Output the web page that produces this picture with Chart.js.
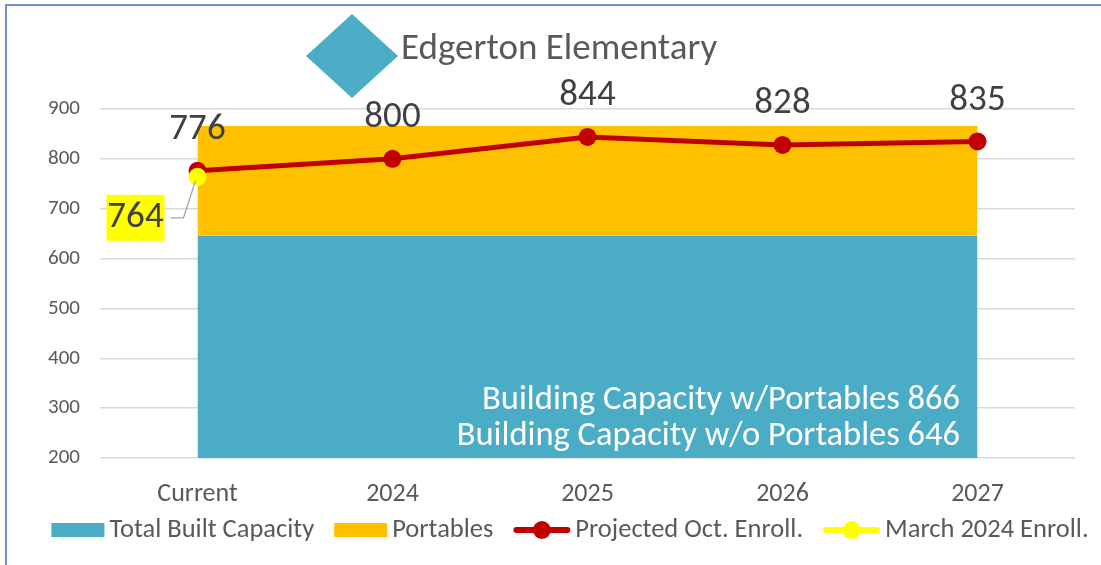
<!DOCTYPE html>
<html>
<head>
<meta charset="utf-8">
<script src="https://cdn.jsdelivr.net/npm/chart.js@4"></script>
<style>
  html, body { margin: 0; padding: 0; background: #fff; }
  #wrap { width: 1101px; height: 565px; }
</style>
</head>
<body>
<div id="wrap"><canvas id="grafico" width="1101" height="565"></canvas></div>
<script>
const categories = ['Current', '2024', '2025', '2026', '2027'];
const builtCapacity = [646, 646, 646, 646, 646];
const portables = [220, 220, 220, 220, 220];
const projectedEnroll = [776, 800, 844, 828, 835];
const marchEnroll = [764, null, null, null, null];
const yTicks = [200, 300, 400, 500, 600, 700, 800, 900];

const chartTitle = 'Edgerton Elementary';
const capacityNotes = ['Building Capacity w/Portables 866', 'Building Capacity w/o Portables 646'];

const FONT = 'Calibri, Carlito, Lato, sans-serif';
const TEXT = '#595959';

// top of the portables band = built + portables
const withPortables = builtCapacity.map((v, i) => v + portables[i]);

const decor = {
    id: 'decor',
    beforeDraw(chart) {
        const ctx = chart.ctx;
        ctx.save();
        // frame
        ctx.strokeStyle = '#6F93CF';
        ctx.lineWidth = 2;
        ctx.beginPath();
        ctx.moveTo(6, 565);
        ctx.lineTo(6, 5);
        ctx.lineTo(1101, 5);
        ctx.stroke();
        // title marker + text
        ctx.fillStyle = '#4BACC6';
        ctx.beginPath();
        ctx.moveTo(352, 14);
        ctx.lineTo(398, 56);
        ctx.lineTo(352, 98);
        ctx.lineTo(306, 56);
        ctx.closePath();
        ctx.fill();
        ctx.fillStyle = TEXT;
        ctx.font = '37px ' + FONT;
        ctx.textBaseline = 'middle';
        ctx.textAlign = 'left';
        ctx.fillText(chartTitle, 401, 50);
        ctx.restore();
    },
    afterDatasetsDraw(chart) {
        const ctx = chart.ctx;
        ctx.save();
        // capacity note in the teal area
        ctx.fillStyle = '#fff';
        ctx.font = '34.5px ' + FONT;
        ctx.textAlign = 'right';
        ctx.textBaseline = 'middle';
        ctx.fillText(capacityNotes[0], 960, 400);
        ctx.fillText(capacityNotes[1], 960, 436);

        // projected labels
        const proj = chart.getDatasetMeta(2);
        ctx.fillStyle = '#404040';
        ctx.font = '37px ' + FONT;
        ctx.textAlign = 'center';
        proj.data.forEach((pt, i) => {
            ctx.fillText(String(projectedEnroll[i]), pt.x, pt.y - 41);
        });

        // march label with leader line
        const mar = chart.getDatasetMeta(3);
        mar.data.forEach((pt, i) => {
            if (marchEnroll[i] == null) return;
            const cx = pt.x - 62, cy = pt.y + 41;
            ctx.strokeStyle = '#A6A6A6';
            ctx.lineWidth = 1.3;
            ctx.beginPath();
            ctx.moveTo(cx + 35, cy);
            ctx.lineTo(cx + 48, cy);
            ctx.lineTo(pt.x - 2, pt.y + 4);
            ctx.stroke();
            ctx.fillStyle = '#FFFF00';
            ctx.fillRect(cx - 29, cy - 23, 58, 46);
            ctx.fillStyle = '#404040';
            ctx.fillText(String(marchEnroll[i]), cx, cy);
        });
        ctx.restore();
    },
    afterDraw(chart) {
        // legend
        const ctx = chart.ctx;
        ctx.save();
        ctx.font = '26.5px ' + FONT;
        ctx.textBaseline = 'middle';
        ctx.textAlign = 'left';
        const items = chart.data.datasets.map(ds => ({
            text: ds.label,
            kind: ds.legendKind,
            color: ds.legendColor,
            sw: ds.legendKind === 'box' ? 53 : 57
        }));
        let total = 0;
        items.forEach((it, i) => {
            it.tw = ctx.measureText(it.text).width;
            total += it.sw + 5 + it.tw + (i < items.length - 1 ? 20 : 0);
        });
        let x = 570 - total / 2;
        const y = 530;
        items.forEach(it => {
            if (it.kind === 'box') {
                ctx.fillStyle = it.color;
                ctx.fillRect(x, y - 7, it.sw, 14);
            } else {
                ctx.strokeStyle = it.color;
                ctx.lineWidth = 6;
                ctx.lineCap = 'round';
                ctx.beginPath();
                ctx.moveTo(x + 3, y);
                ctx.lineTo(x + it.sw - 3, y);
                ctx.stroke();
                ctx.fillStyle = it.color;
                ctx.beginPath();
                ctx.arc(x + it.sw / 2, y, 9, 0, Math.PI * 2);
                ctx.fill();
            }
            x += it.sw + 5;
            ctx.fillStyle = TEXT;
            ctx.fillText(it.text, x, y);
            x += it.tw + 20;
        });
        ctx.restore();
    }
};

const ctx = document.getElementById('grafico').getContext('2d');
new Chart(ctx, {
    type: 'line',
    data: {
        labels: categories,
        datasets: [
            {
                label: 'Total Built Capacity',
                data: builtCapacity,
                legendKind: 'box',
                legendColor: '#4BACC6',
                backgroundColor: '#4BACC6',
                borderWidth: 0,
                pointRadius: 0,
                tension: 0,
                fill: 'start',
                order: 4
            },
            {
                label: 'Portables',
                data: withPortables,
                legendKind: 'box',
                legendColor: '#FFC000',
                backgroundColor: '#FFC000',
                borderWidth: 0,
                pointRadius: 0,
                tension: 0,
                fill: '-1',
                order: 3
            },
            {
                label: 'Projected Oct. Enroll.',
                data: projectedEnroll,
                legendKind: 'line',
                legendColor: '#C00000',
                borderColor: '#C00000',
                backgroundColor: '#C00000',
                borderWidth: 5,
                pointRadius: 9,
                pointBorderWidth: 0,
                pointBackgroundColor: '#C00000',
                tension: 0,
                fill: false,
                order: 2
            },
            {
                label: 'March 2024 Enroll.',
                data: marchEnroll,
                legendKind: 'line',
                legendColor: '#FFFF00',
                borderColor: '#FFFF00',
                backgroundColor: '#FFFF00',
                borderWidth: 5,
                pointRadius: 9,
                pointBorderWidth: 0,
                pointBackgroundColor: '#FFFF00',
                tension: 0,
                fill: false,
                order: 1
            }
        ]
    },
    options: {
        responsive: false,
        animation: false,
        events: [],
        layout: { padding: { top: 109, right: 26, bottom: 0, left: 0 } },
        plugins: {
            legend: { display: false },
            title: { display: false },
            tooltip: { enabled: false }
        },
        scales: {
            x: {
                offset: true,
                grid: { display: false, drawTicks: false },
                border: { display: false },
                ticks: {
                    color: TEXT,
                    font: { family: FONT, size: 26 },
                    padding: 21,
                    maxRotation: 0
                },
                afterFit(scale) { scale.height = 107; }
            },
            y: {
                min: 200,
                max: 900,
                afterBuildTicks(scale) { scale.ticks = yTicks.map(v => ({ value: v })); },
                grid: { color: '#D9D9D9', lineWidth: 1.5, drawTicks: false },
                border: { display: false },
                ticks: {
                    color: TEXT,
                    font: { family: FONT, size: 21 },
                    padding: 20
                },
                afterFit(scale) { scale.width = 100; }
            }
        }
    },
    plugins: [decor]
});
</script>
</body>
</html>
